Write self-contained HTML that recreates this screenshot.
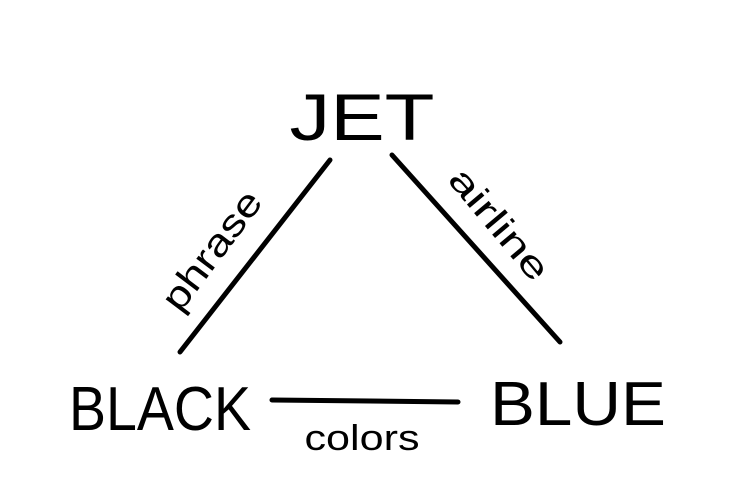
<!DOCTYPE html>
<html>
<head>
<meta charset="utf-8">
<style>
  html,body{margin:0;padding:0;background:#fff;}
  svg{display:block;}
  text{font-family:"Liberation Sans",sans-serif;fill:#000;}
</style>
</head>
<body>
<svg width="748" height="500" viewBox="0 0 748 500">
  <g stroke="#000" stroke-width="5" stroke-linecap="round" fill="none">
    <line x1="330" y1="160" x2="180" y2="352"/>
    <line x1="392" y1="155" x2="560" y2="342"/>
    <line x1="272" y1="400" x2="458" y2="402"/>
  </g>
  <text x="362" y="140" font-size="66" text-anchor="middle" textLength="145" lengthAdjust="spacingAndGlyphs">JET</text>
  <text x="160" y="430" font-size="62" text-anchor="middle" textLength="182" lengthAdjust="spacingAndGlyphs">BLACK</text>
  <text x="578" y="425" font-size="62" text-anchor="middle" textLength="176" lengthAdjust="spacingAndGlyphs">BLUE</text>
  <text x="362" y="450" font-size="36" text-anchor="middle" textLength="115" lengthAdjust="spacingAndGlyphs">colors</text>
  <text x="0" y="0" font-size="38" text-anchor="middle" transform="translate(222,258) rotate(-53)" textLength="140" lengthAdjust="spacingAndGlyphs">phrase</text>
  <text x="0" y="0" font-size="36" text-anchor="middle" transform="translate(490,232) rotate(50)" textLength="135" lengthAdjust="spacingAndGlyphs">airline</text>
</svg>
</body>
</html>
